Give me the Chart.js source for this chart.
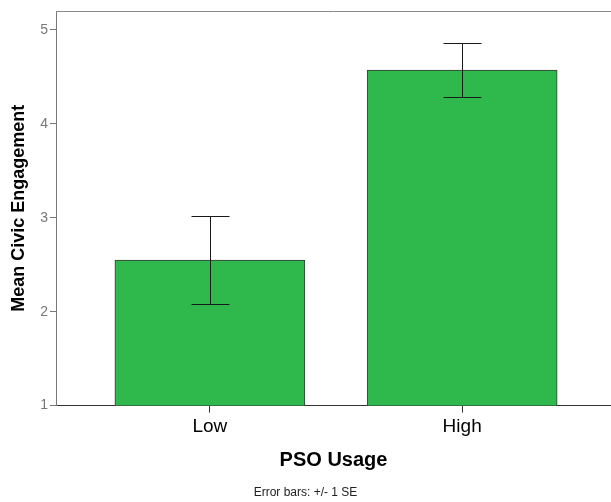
<!DOCTYPE html>
<html>
<head>
<meta charset="utf-8">
<script src="https://cdn.jsdelivr.net/npm/chart.js@4"></script>
<style>
  body { margin: 0; background: #fff; }
  canvas { display: block; }
</style>
</head>
<body>
<canvas id="grafico" width="611" height="502"></canvas>
<script>
const categorias = ['Low', 'High'];
const medias = [2.55, 4.57];
const erroPadrao = [0.47, 0.285];
const ticksY = [1, 2, 3, 4, 5];

// barras posicionadas em x = 1, 2 numa escala linear
const pontos = categorias.map((c, i) => ({ x: i + 1, y: medias[i] }));

const bordaTopo = {
  id: 'bordaTopo',
  beforeDatasetsDraw(chart) {
    const { ctx, chartArea } = chart;
    ctx.save();
    ctx.strokeStyle = '#8a8a8a';
    ctx.lineWidth = 1;
    ctx.beginPath();
    ctx.moveTo(chartArea.left, chartArea.top + 0.5);
    ctx.lineTo(chartArea.right, chartArea.top + 0.5);
    ctx.stroke();
    ctx.restore();
  }
};

const barrasErro = {
  id: 'barrasErro',
  afterDatasetsDraw(chart) {
    const { ctx } = chart;
    const y = chart.scales.y;
    const meta = chart.getDatasetMeta(0);
    ctx.save();
    ctx.strokeStyle = '#1a1a1a';
    ctx.lineWidth = 1;
    meta.data.forEach((bar, i) => {
      const x = Math.round(bar.x) + 0.5;
      const yTop = Math.round(y.getPixelForValue(medias[i] + erroPadrao[i])) + 0.5;
      const yBot = Math.round(y.getPixelForValue(medias[i] - erroPadrao[i])) + 0.5;
      ctx.beginPath();
      ctx.moveTo(x, yTop);
      ctx.lineTo(x, yBot);
      ctx.moveTo(x - 19, yTop);
      ctx.lineTo(x + 19, yTop);
      ctx.moveTo(x - 19, yBot);
      ctx.lineTo(x + 19, yBot);
      ctx.stroke();
    });
    ctx.restore();
  }
};

new Chart(document.getElementById('grafico').getContext('2d'), {
  type: 'bar',
  data: {
    datasets: [{
      data: pontos,
      backgroundColor: '#2fb84b',
      borderColor: '#3a3a3a',
      borderWidth: 1,
      barThickness: 190
    }]
  },
  options: {
    responsive: false,
    animation: false,
    layout: { padding: { top: 11, left: 0, right: 0, bottom: 0 } },
    plugins: {
      legend: { display: false },
      tooltip: { enabled: false },
      subtitle: {
        display: true,
        position: 'bottom',
        text: 'Error bars: +/- 1 SE',
        color: '#222',
        font: { family: 'Liberation Sans, Arial', size: 12 },
        padding: { top: 0, bottom: 2 }
      }
    },
    scales: {
      x: {
        type: 'linear',
        offset: false,
        min: 0.39,
        max: 2.59,
        afterFit: s => { s.height = 80; },
        afterBuildTicks: s => { s.ticks = categorias.map((c, i) => ({ value: i + 1 })); },
        ticks: {
          callback: v => categorias[v - 1],
          color: '#000',
          padding: 3,
          autoSkip: false,
          maxRotation: 0,
          font: { family: 'Liberation Sans, Arial', size: 19 }
        },
        grid: { display: true, offset: false, drawOnChartArea: false, drawTicks: true, tickLength: 7, color: '#333' },
        border: { display: true, color: '#333', width: 1 },
        title: {
          display: true,
          text: 'PSO Usage',
          color: '#000',
          font: { family: 'Liberation Sans, Arial', size: 20, weight: 'bold' },
          padding: { top: 0, bottom: 13 }
        }
      },
      y: {
        min: 1,
        max: 5.2,
        afterFit: s => { s.width = 56; },
        afterBuildTicks: s => { s.ticks = ticksY.map(v => ({ value: v })); },
        ticks: {
          color: '#777',
          padding: 2,
          font: { family: 'Liberation Sans, Arial', size: 14 }
        },
        grid: { display: true, drawOnChartArea: false, drawTicks: true, tickLength: 6, color: '#777' },
        border: { display: true, color: '#777', width: 1 },
        title: {
          display: true,
          text: 'Mean Civic Engagement',
          color: '#000',
          font: { family: 'Liberation Sans, Arial', size: 18, weight: 'bold' },
          padding: { top: 8, bottom: 0 }
        }
      }
    }
  },
  plugins: [bordaTopo, barrasErro]
});
</script>
</body>
</html>
